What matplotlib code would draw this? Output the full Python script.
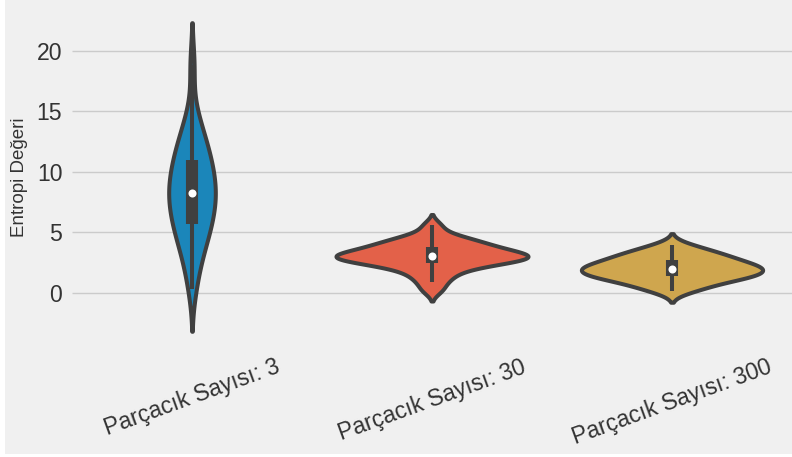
import colorsys

import matplotlib
matplotlib.use("Agg")
import matplotlib.pyplot as plt
import numpy as np
from matplotlib.cbook import boxplot_stats
from matplotlib.colors import to_rgb
from matplotlib.patches import Rectangle

plt.style.use("fivethirtyeight")
plt.rcParams["font.family"] = ["Liberation Sans", "DejaVu Sans"]

labels = ["Parçacık Sayısı: 3", "Parçacık Sayısı: 30", "Parçacık Sayısı: 300"]

# entropy values per particle count
entropy_3 = [0.3, 1.9, 2.9, 3.65, 4.25, 4.8, 5.25, 5.6, 5.9, 6.4,
             6.8, 7.15, 7.5, 7.85, 8.1, 8.38, 8.75, 9.1, 9.45, 9.8,
             10.15, 10.6, 11.05, 11.4, 11.85, 12.35, 12.95, 13.7, 14.8, 18.8]
entropy_30 = [0.2, 0.85, 1.3, 1.65, 1.95, 2.15, 2.32, 2.45, 2.54, 2.64,
              2.73, 2.81, 2.88, 2.94, 2.97, 3.03, 3.12, 3.22, 3.30, 3.39,
              3.47, 3.62, 3.76, 3.88, 4.02, 4.16, 4.32, 4.52, 4.8, 5.55]
entropy_300 = [0.1, 0.35, 0.6, 0.8, 0.97, 1.1, 1.21, 1.32, 1.40, 1.48,
               1.57, 1.66, 1.75, 1.84, 1.92, 2.00, 2.09, 2.18, 2.27, 2.36,
               2.45, 2.55, 2.71, 2.84, 2.97, 3.1, 3.25, 3.42, 3.65, 3.97]

groups = [entropy_3, entropy_30, entropy_300]
bandwidths = [1.75, 0.45, 0.45]
base_colors = ["#008fd5", "#fc4f30", "#e5ae38"]

GRAY = "#404040"
LW = 2.9


def desaturate(color, prop=0.75):
    h, l, s = colorsys.rgb_to_hls(*to_rgb(color))
    return colorsys.hls_to_rgb(h, l, s * prop)


def kde(values, bw, n=250, cut=2):
    values = np.asarray(values, dtype=float)
    grid = np.linspace(values.min() - cut * bw, values.max() + cut * bw, n)
    z = (grid[:, None] - values[None, :]) / bw
    dens = np.exp(-0.5 * z ** 2).sum(axis=1) / (len(values) * bw * np.sqrt(2 * np.pi))
    return grid, dens


fig = plt.figure(figsize=(7.92, 4.57), dpi=100, facecolor="white")
fig.patches.append(Rectangle((5 / 792, 3 / 457), 1, 1, transform=fig.transFigure,
                             facecolor="#f0f0f0", edgecolor="none", zorder=-10))
ax = fig.add_axes([72 / 792, 110 / 457, 720 / 792, 340 / 457])
ax.set_facecolor("#f0f0f0")

curves = [kde(g, bw) for g, bw in zip(groups, bandwidths)]
peak = max(d.max() for _, d in curves)

for i, (vals, (y, d), c) in enumerate(zip(groups, curves, base_colors)):
    half = d / peak * 0.4
    ax.fill_betweenx(y, i - half, i + half, facecolor=desaturate(c),
                     edgecolor=GRAY, linewidth=LW, zorder=2)
    st = boxplot_stats(vals)[0]
    ax.plot([i, i], [st["whislo"], st["whishi"]], color=GRAY, lw=LW,
            solid_capstyle="butt", zorder=3)
    ax.plot([i, i], [st["q1"], st["q3"]], color=GRAY, lw=LW * 3,
            solid_capstyle="butt", zorder=3)
    ax.plot(i, st["med"], "o", color="white", ms=5.8, mew=0, zorder=4)

ax.set_xlim(-0.5, 2.5)
ax.set_ylim(-4.5, 23.6)
ax.set_xticks(range(3))
ax.set_xticklabels(labels, rotation=20, ha="center")
ax.set_yticks([0, 5, 10, 15, 20])
ax.tick_params(axis="both", labelsize=16.6, length=0, colors="#333333")
ax.tick_params(axis="y", pad=7)
ax.tick_params(axis="x", pad=6)
ax.set_ylabel("Entropi Değeri", fontsize=13.5, labelpad=6, color="#333333")
ax.xaxis.grid(False)
ax.yaxis.grid(True, color="#cbcbcb", linewidth=1.0)
for s in ax.spines.values():
    s.set_visible(False)

fig.savefig("out.png", dpi=100, facecolor=fig.get_facecolor())
